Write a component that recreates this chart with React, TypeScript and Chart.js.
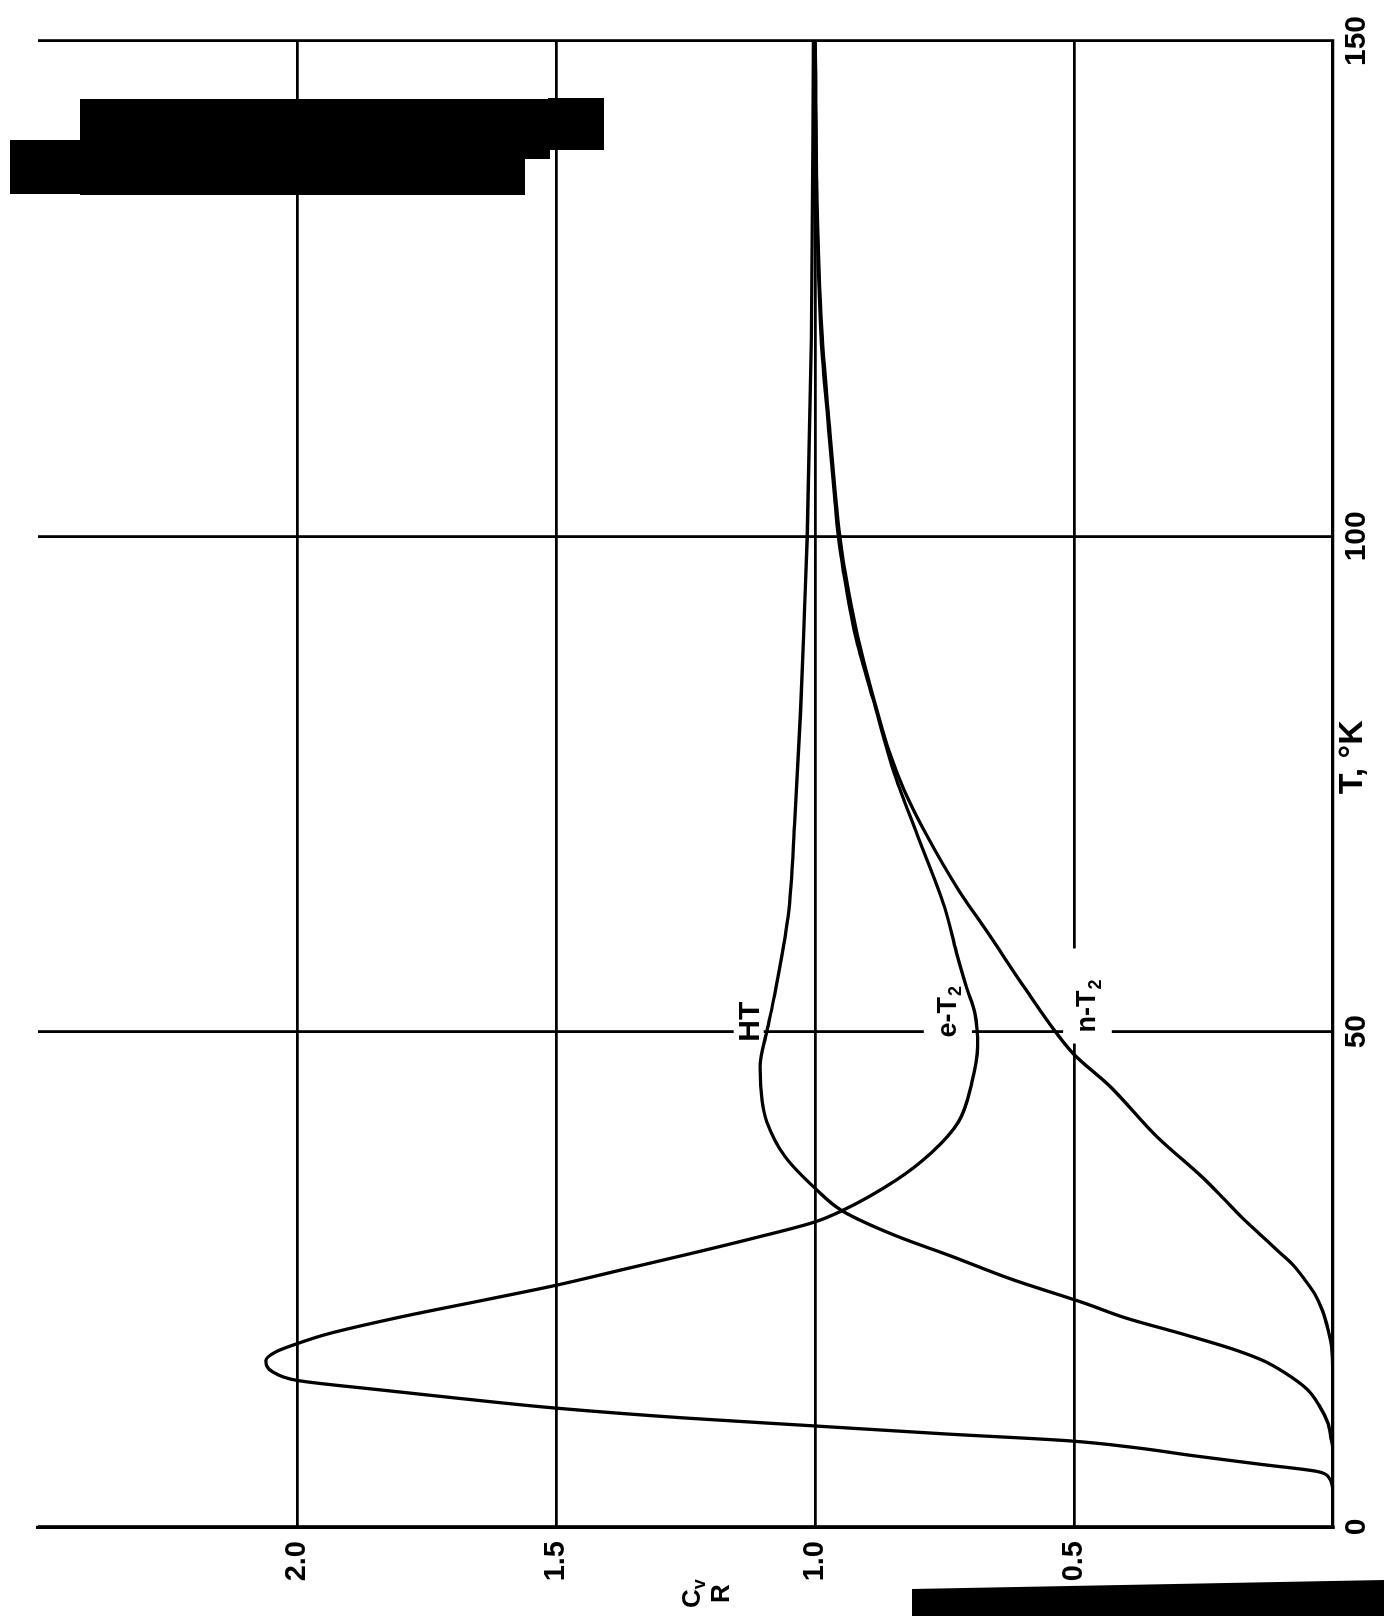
import React, { useEffect, useRef } from 'react';
import { Chart, registerables } from 'chart.js';

Chart.register(...registerables);

// ---- data (T in K, Cv/R) ----
const T_TICKS = [0, 50, 100, 150];
const CV_TICKS = [0.5, 1.0, 1.5, 2.0];

const eT2_T = [0, 3.5, 5.0, 5.6, 6.3, 7.2, 8.0, 8.7, 9.4, 10.2, 11.0, 12.0, 13.0, 13.9, 14.8, 15.7, 16.8, 17.7, 18.5, 19.5, 21.2, 23.0, 24.4, 26.0, 27.6, 29.2, 30.8, 32.0, 35.0, 37.8, 40.9, 44.9, 48.5, 52, 54.4, 58, 62.6, 69.8, 75.8, 83.6, 90, 96.4, 100, 104.5, 111, 120, 131.5, 150];
const eT2_Cv = [0, 0, 0.008, 0.03, 0.135, 0.27, 0.38, 0.51, 0.75, 1.0, 1.25, 1.5, 1.69, 1.85, 2.0, 2.048, 2.06, 2.04, 2.0, 1.94, 1.8, 1.63, 1.5, 1.37, 1.24, 1.115, 1.0, 0.945, 0.844, 0.775, 0.723, 0.697, 0.686, 0.692, 0.707, 0.727, 0.75, 0.802, 0.845, 0.888, 0.922, 0.945, 0.955, 0.963, 0.974, 0.988, 0.996, 1.0];

const HT_T = [0, 7.5, 9.0, 10.5, 12.3, 13.9, 15.6, 16.8, 17.9, 19.4, 21.1, 22.6, 25.0, 27.4, 29.4, 31.9, 34.2, 37.4, 40.9, 43, 46.5, 50, 53.7, 61.6, 71.5, 82.2, 92.9, 100, 120, 150];
const HT_Cv = [0, 0, 0.004, 0.01, 0.027, 0.05, 0.094, 0.135, 0.19, 0.285, 0.4, 0.48, 0.62, 0.74, 0.844, 0.947, 1.0, 1.058, 1.093, 1.102, 1.106, 1.093, 1.078, 1.052, 1.039, 1.028, 1.02, 1.015, 1.007, 1.003];

const nT2_T = [0, 14, 17.8, 20, 21.8, 23.5, 25, 26.5, 27.8, 29.5, 31.2, 33.2, 35.2, 39.4, 44.5, 47.7, 50, 54.4, 59.8, 64.4, 69.8, 74.4, 78, 82.2, 90, 96.4, 100, 104.5, 111, 120, 131.5, 150];
const nT2_Cv = [0, 0, 0.002, 0.01, 0.02, 0.035, 0.055, 0.078, 0.105, 0.14, 0.175, 0.212, 0.25, 0.34, 0.431, 0.5, 0.536, 0.595, 0.664, 0.724, 0.784, 0.828, 0.855, 0.879, 0.918, 0.942, 0.952, 0.961, 0.972, 0.986, 0.995, 1.0];

const CURVE_NAMES = ['HT', 'e-T', 'n-T'];
const CURVE_SUBS = ['', '2', '2'];
const LABEL_T = [51.0, 52.0, 52.6];
const LABEL_CV = [1.124, 0.743, 0.473];

const X_TITLE = 'T, °K';
const X_TITLE_AT = 77.7;
const Y_TITLE_AT = 1.21;

// white breaks in the grid around the curve labels: [tMin, tMax, cvMin, cvMax]
const GAPS = [
  [48.7, 53.5, 1.099, 1.157],
  [48.5, 55.6, 0.697, 0.79],
  [48.8, 55.2, 0.427, 0.521],
  [49.2, 58.4, 0.487, 0.513],
];

const W = 1616;
const H = 1384;
const FONT = '"Liberation Sans", Arial, sans-serif';

const toPts = (xs: number[], ys: number[]) => xs.map((x, i) => ({ x, y: ys[i] }));

const overlayPlugin = {
  id: 'overlay',
  beforeDatasetsDraw(chart: any) {
    const { ctx } = chart;
    const xs = chart.scales.x;
    const ys = chart.scales.y;
    ctx.save();
    ctx.fillStyle = '#ffffff';
    for (const g of GAPS) {
      const x0 = xs.getPixelForValue(g[0]);
      const x1 = xs.getPixelForValue(g[1]);
      const y0 = ys.getPixelForValue(g[3]);
      const y1 = ys.getPixelForValue(g[2]);
      ctx.fillRect(x0, y0, x1 - x0, y1 - y0);
    }
    ctx.fillStyle = '#000000';
    ctx.textBaseline = 'middle';
    ctx.textAlign = 'left';
    CURVE_NAMES.forEach((name, i) => {
      const sub = CURVE_SUBS[i];
      const mainSize = sub ? 27 : 30;
      ctx.font = `bold ${mainSize}px ${FONT}`;
      const wMain = ctx.measureText(name).width;
      ctx.font = `bold 18px ${FONT}`;
      const wSub = sub ? ctx.measureText(sub).width + 1 : 0;
      const cx = xs.getPixelForValue(LABEL_T[i]);
      const cy = ys.getPixelForValue(LABEL_CV[i]);
      const start = cx - (wMain + wSub) / 2;
      ctx.font = `bold ${mainSize}px ${FONT}`;
      ctx.fillText(name, start, cy);
      if (sub) {
        ctx.font = `bold 18px ${FONT}`;
        ctx.fillText(sub, start + wMain + 1, cy + 8);
      }
    });
    ctx.restore();
  },
  afterDraw(chart: any) {
    const { ctx } = chart;
    const xs = chart.scales.x;
    const ys = chart.scales.y;
    ctx.save();
    ctx.fillStyle = '#000000';
    ctx.textBaseline = 'middle';
    ctx.textAlign = 'center';
    ctx.font = `bold 34px ${FONT}`;
    ctx.fillText(X_TITLE, xs.getPixelForValue(X_TITLE_AT), 1353);
    // Cv over R, stacked
    const cy = ys.getPixelForValue(Y_TITLE_AT);
    ctx.textAlign = 'left';
    ctx.font = `bold 26px ${FONT}`;
    const wc = ctx.measureText('C').width;
    ctx.fillText('C', 8, cy - 13);
    ctx.font = `bold 18px ${FONT}`;
    ctx.fillText('v', 8 + wc, cy - 6);
    ctx.font = `bold 26px ${FONT}`;
    ctx.fillText('R', 13, cy + 16);
    ctx.restore();
  },
};

function PlotChart() {
  const ref = useRef<HTMLCanvasElement | null>(null);
  useEffect(() => {
    if (!ref.current) return;
    const curve = (label: string, xs: number[], ys: number[]) => ({
      label,
      data: toPts(xs, ys),
      borderColor: '#000000',
      borderWidth: 3.3,
      pointRadius: 0,
      fill: false,
      cubicInterpolationMode: 'monotone' as const,
    });
    const chart = new Chart(ref.current, {
      type: 'line',
      data: {
        datasets: [
          curve('e-T2', eT2_T, eT2_Cv),
          curve('HT', HT_T, HT_Cv),
          curve('n-T2', nT2_T, nT2_Cv),
        ],
      },
      options: {
        responsive: false,
        maintainAspectRatio: false,
        devicePixelRatio: 1,
        animation: false,
        layout: { padding: { left: 0, right: 41, top: 38, bottom: 0 } },
        plugins: { legend: { display: false }, tooltip: { enabled: false } },
        scales: {
          x: {
            type: 'linear',
            min: 0,
            max: 150,
            afterFit: (s: any) => { s.height = 51; },
            ticks: {
              stepSize: 50,
              maxRotation: 0,
              autoSkip: false,
              padding: 6,
              color: '#000000',
              font: { family: FONT, size: 30, weight: 'bold' },
              callback: (v: any) => (T_TICKS.includes(Number(v)) ? String(v) : null),
            },
            grid: { color: '#000000', lineWidth: 2.8, drawTicks: false },
            border: { display: true, color: '#000000', width: 3.2 },
          },
          y: {
            type: 'linear',
            min: 0,
            max: 2.5,
            afterFit: (s: any) => { s.width = 89; },
            ticks: {
              stepSize: 0.5,
              padding: 14,
              color: '#000000',
              font: { family: FONT, size: 29, weight: 'bold' },
              callback: (v: any) => {
                const n = Math.round(Number(v) * 10) / 10;
                return CV_TICKS.includes(n) ? n.toFixed(1) : null;
              },
            },
            grid: { color: '#000000', lineWidth: 2.8, drawTicks: false },
            border: { display: true, color: '#000000', width: 3.2 },
          },
        },
      } as any,
      plugins: [overlayPlugin],
    });
    return () => chart.destroy();
  }, []);
  return <canvas ref={ref} width={W} height={H} style={{ display: 'block', width: W, height: H }} />;
}

const BLOT = (left: number, top: number, width: number, height: number) => (
  <div style={{ position: 'absolute', left, top, width, height, background: '#000' }} />
);

export default function App() {
  return (
    <div style={{ position: 'fixed', left: 0, top: 0, width: 1384, height: 1616, overflow: 'hidden', background: '#fff' }}>
      <div
        style={{
          position: 'absolute',
          left: 0,
          top: 0,
          width: W,
          height: H,
          transformOrigin: '0 0',
          transform: `translateY(${W}px) rotate(-90deg)`,
        }}
      >
        <PlotChart />
      </div>
      {BLOT(80, 99, 470, 60)}
      {BLOT(80, 155, 445, 40)}
      {BLOT(10, 140, 72, 54)}
      {BLOT(548, 98, 56, 52)}
      <div
        style={{
          position: 'absolute',
          left: 912,
          top: 1580,
          width: 472,
          height: 36,
          background: '#000',
          clipPath: 'polygon(0 9px, 100% 0, 100% 100%, 0 100%)',
        }}
      />
    </div>
  );
}
